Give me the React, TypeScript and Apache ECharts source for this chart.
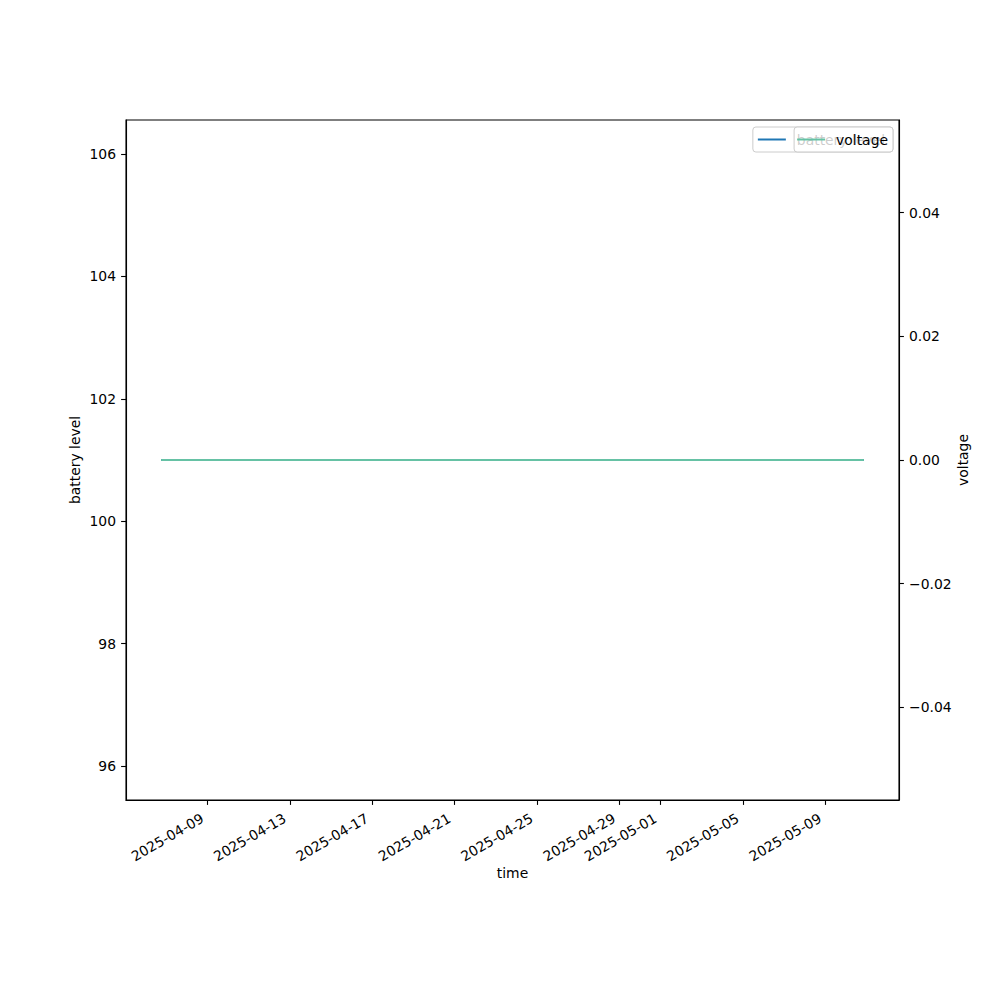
import React, { useEffect, useRef } from "react";
import * as echarts from "echarts";

const times = [
  "2025-04-06T18:00:00Z",
  "2025-04-12T00:00:00Z",
  "2025-04-18T00:00:00Z",
  "2025-04-24T00:00:00Z",
  "2025-04-30T00:00:00Z",
  "2025-05-06T00:00:00Z",
  "2025-05-10T21:00:00Z",
];
const batteryLevel = [101, 101, 101, 101, 101, 101, 101];
const voltage = [0, 0, 0, 0, 0, 0, 0];

const xTickLabels = [
  "2025-04-09",
  "2025-04-13",
  "2025-04-17",
  "2025-04-21",
  "2025-04-25",
  "2025-04-29",
  "2025-05-01",
  "2025-05-05",
  "2025-05-09",
];
const leftTicks = [96, 98, 100, 102, 104, 106];
const rightTicks = [-0.04, -0.02, 0.0, 0.02, 0.04];

const FONT = "DejaVu Sans";
const FS = 13.9;

function fmtDate(v: number) {
  const d = new Date(v);
  const p = (n: number) => String(n).padStart(2, "0");
  return `${d.getUTCFullYear()}-${p(d.getUTCMonth() + 1)}-${p(d.getUTCDate())}`;
}

export default function App() {
  const ref = useRef<HTMLDivElement>(null);
  useEffect(() => {
    if (!ref.current) return;
    const chart = echarts.init(ref.current, undefined, { renderer: "svg" });
    const ts = times.map((t) => Date.parse(t));
    const t0 = Math.min(...ts);
    const t1 = Math.max(...ts);
    const pad = (t1 - t0) * 0.05;
    const xTicks = xTickLabels.map((s) => Date.parse(s + "T00:00:00Z"));

    const axisLine = { show: true, onZero: false, lineStyle: { color: "#000", width: 1.1 } };
    const axisTick = { show: true, length: 4.9, lineStyle: { color: "#000", width: 1.1 } };
    const legendCommon = {
      orient: "horizontal" as const,
      right: 107,
      top: 127,
      icon: "rect",
      itemWidth: 28,
      itemHeight: 2,
      borderColor: "#cccccc",
      borderWidth: 1,
      borderRadius: 3,
      backgroundColor: "rgba(255,255,255,0.8)",
      selectedMode: false,
      textStyle: { fontSize: FS, color: "#000", fontFamily: FONT, padding: [0, 0, 0, 6], lineHeight: 15 },
    };

    chart.setOption({
      animation: false,
      textStyle: { fontFamily: FONT },
      grid: {
        left: 126,
        right: 101,
        top: 120,
        bottom: 200,
        show: true,
        borderColor: "#000",
        borderWidth: 1.1,
        backgroundColor: "transparent",
        containLabel: false,
      },
      legend: [
        { ...legendCommon, data: ["battery level"], padding: [5, 8, 5, 5], z: 4 },
        { ...legendCommon, data: ["voltage"], padding: [5, 5, 5, 3], z: 6 },
      ],
      xAxis: {
        type: "value",
        min: t0 - pad,
        max: t1 + pad,
        name: "time",
        nameLocation: "middle",
        nameGap: 66,
        nameMoveOverlap: false,
        nameTextStyle: { fontSize: FS, color: "#000", fontFamily: FONT },
        axisLine,
        axisTick: { ...axisTick, customValues: xTicks },
        splitLine: { show: false },
        axisLabel: {
          customValues: xTicks,
          rotate: 30,
          margin: 14,
          padding: [0, 6, 0, 0],
          fontSize: FS,
          color: "#000",
          fontFamily: FONT,
          formatter: (v: number) => fmtDate(v),
        },
      },
      yAxis: [
        {
          type: "value",
          position: "left",
          min: 95.445,
          max: 106.555,
          name: "battery level",
          nameLocation: "middle",
          nameGap: 44,
          nameMoveOverlap: false,
          nameRotate: 90,
          nameTextStyle: { fontSize: FS, color: "#000", fontFamily: FONT },
          axisLine,
          axisTick: { ...axisTick, customValues: leftTicks },
          splitLine: { show: false },
          axisLabel: {
            customValues: leftTicks,
            margin: 10,
            fontSize: FS,
            color: "#000",
            fontFamily: FONT,
            formatter: (v: number) => String(Math.round(v)),
          },
        },
        {
          type: "value",
          position: "right",
          min: -0.055,
          max: 0.055,
          name: "voltage",
          nameLocation: "middle",
          nameGap: 57,
          nameMoveOverlap: false,
          nameRotate: 90,
          nameTextStyle: { fontSize: FS, color: "#000", fontFamily: FONT },
          axisLine,
          axisTick: { ...axisTick, customValues: rightTicks },
          splitLine: { show: false },
          axisLabel: {
            customValues: rightTicks,
            margin: 10,
            fontSize: FS,
            color: "#000",
            fontFamily: FONT,
            formatter: (v: number) =>
              Math.abs(v) < 1e-9 ? "0.00" : (v < 0 ? "\u2212" : "") + Math.abs(v).toFixed(2),
          },
        },
      ],
      series: [
        {
          name: "battery level",
          type: "line",
          yAxisIndex: 0,
          symbol: "none",
          data: ts.map((t, i) => [t, batteryLevel[i]]),
          lineStyle: { color: "#1f77b4", width: 2.1 },
          itemStyle: { color: "#1f77b4" },
          z: 2,
        },
        {
          name: "voltage",
          type: "line",
          yAxisIndex: 1,
          symbol: "none",
          data: ts.map((t, i) => [t, voltage[i]]),
          lineStyle: { color: "#66c2a5", width: 2.1 },
          itemStyle: { color: "#66c2a5" },
          z: 3,
        },
      ],
    });
    return () => chart.dispose();
  }, []);
  return <div ref={ref} style={{ width: 1000, height: 1000, position: "absolute", left: 0, top: 0 }} />;
}
